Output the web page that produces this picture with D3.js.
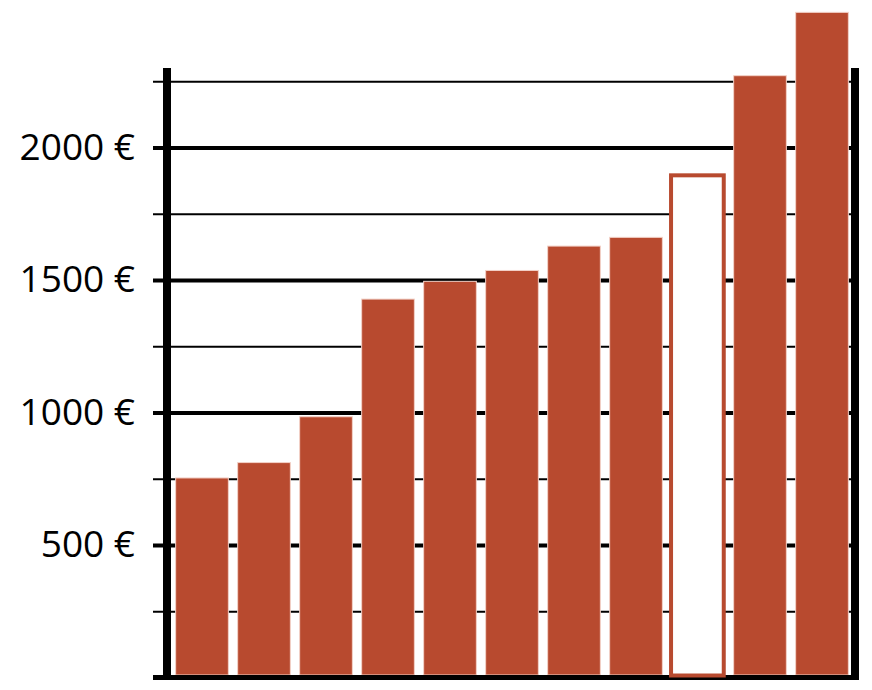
<!DOCTYPE html>
<html>
<head>
<meta charset="utf-8">
<script src="https://cdn.jsdelivr.net/npm/d3@7"></script>
<style>
  html, body { margin: 0; padding: 0; background: #fff; }
  svg { display: block; }
</style>
</head>
<body>
<svg id="chart" width="872" height="690"></svg>
<script>
// ---- data ----
const categories = ["1", "2", "3", "4", "5", "6", "7", "8", "9", "10", "11"];
const values = [753, 811, 984, 1428, 1495, 1536, 1628, 1661, 1895, 2271, 2510];
const highlighted = ["9"];           // drawn as outline only
const majorTicks = [500, 1000, 1500, 2000];
const minorTicks = [250, 750, 1250, 1750, 2250];

// ---- layout ----
const svg = d3.select("#chart");
const barColor = "#b84a2f";

const y = d3.scaleLinear().domain([0, 2500]).range([677.5, 15]);
const x = d3.scaleBand().domain(categories).range([171, 853])
  .paddingInner(0.15).paddingOuter(0.075);

const gridLeft = 153, gridRight = 855;

// minor gridlines
svg.append("g")
  .attr("transform", `translate(${gridLeft},0)`)
  .call(d3.axisLeft(y).tickValues(minorTicks).tickSize(-(gridRight - gridLeft)).tickFormat(""))
  .call(g => g.select(".domain").remove())
  .call(g => g.selectAll(".tick line").attr("stroke", "#000").attr("stroke-width", 2));

// major gridlines + labels
svg.append("g")
  .attr("transform", `translate(${gridLeft},0)`)
  .call(d3.axisLeft(y).tickValues(majorTicks).tickSize(-(gridRight - gridLeft)).tickPadding(18)
    .tickFormat(d => d + " €"))
  .call(g => g.select(".domain").remove())
  .call(g => g.selectAll(".tick line").attr("stroke", "#000").attr("stroke-width", 4))
  .call(g => g.selectAll(".tick text")
    .attr("fill", "#000")
    .style("font-family", "'Open Sans', sans-serif")
    .style("font-size", "37px"));

// filled bars
svg.append("g").selectAll("rect")
  .data(categories.map((c, i) => ({ c, v: values[i] })).filter(d => !highlighted.includes(d.c)))
  .join("rect")
  .attr("x", d => x(d.c))
  .attr("width", x.bandwidth())
  .attr("y", d => y(d.v))
  .attr("height", d => y(0) - 2.5 - y(d.v))
  .attr("fill", barColor)
  .attr("stroke", "#f3d2c8")
  .attr("stroke-width", 1);

// axes frame
svg.append("line").attr("x1", 167).attr("x2", 167).attr("y1", 68).attr("y2", y(0) + 2.5)
  .attr("stroke", "#000").attr("stroke-width", 8);
svg.append("line").attr("x1", 855).attr("x2", 855).attr("y1", 68).attr("y2", y(0) + 2.5)
  .attr("stroke", "#000").attr("stroke-width", 8);
svg.append("line").attr("x1", gridLeft).attr("x2", 859).attr("y1", y(0)).attr("y2", y(0))
  .attr("stroke", "#000").attr("stroke-width", 5);

// outlined (highlighted) bar
svg.append("g").selectAll("rect")
  .data(categories.map((c, i) => ({ c, v: values[i] })).filter(d => highlighted.includes(d.c)))
  .join("rect")
  .attr("x", d => x(d.c) - 0.6)
  .attr("width", x.bandwidth())
  .attr("y", d => y(d.v))
  .attr("height", d => y(0) - 2 - y(d.v))
  .attr("fill", "#fff")
  .attr("stroke", barColor)
  .attr("stroke-width", 4);
</script>
</body>
</html>
